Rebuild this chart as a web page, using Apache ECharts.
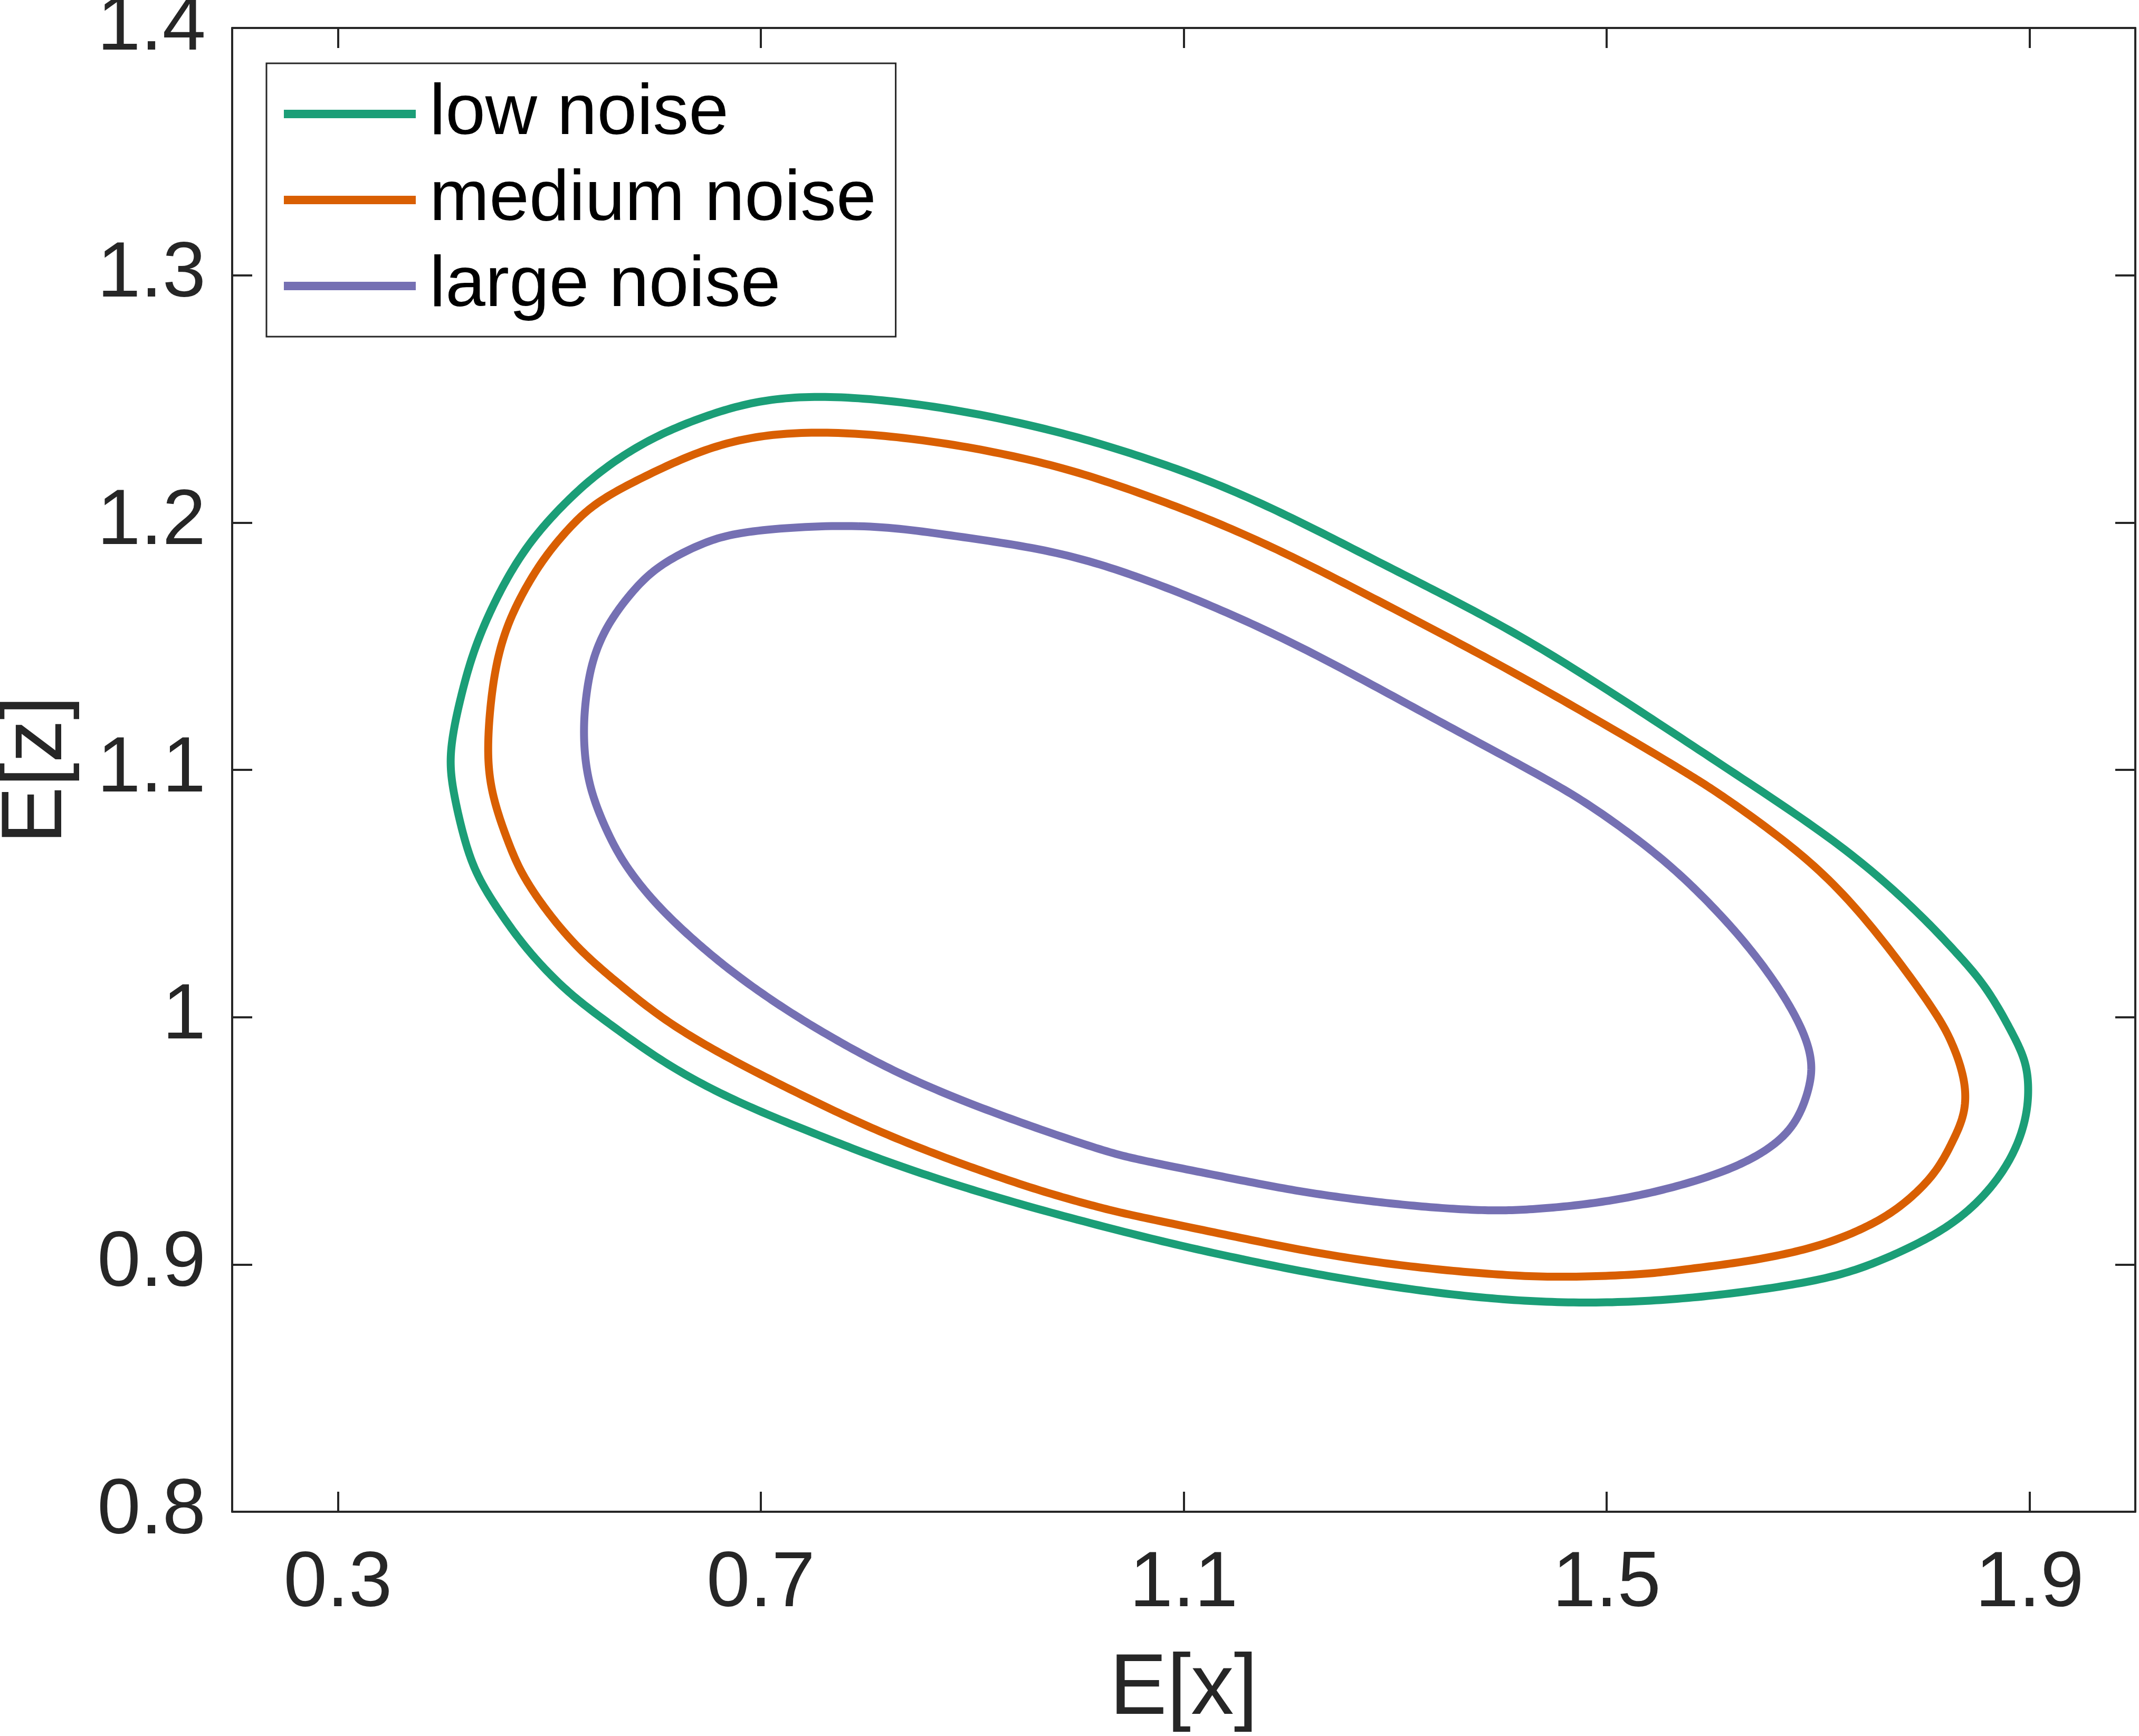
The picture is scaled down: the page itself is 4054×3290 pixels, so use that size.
<!DOCTYPE html>
<html>
<head>
<meta charset="utf-8">
<script src="https://cdn.jsdelivr.net/npm/echarts@6/dist/echarts.min.js"></script>
<style>
  html, body { margin: 0; padding: 0; background: #fff; }
  #main { width: 4054px; height: 3290px; }
</style>
</head>
<body>
<div id="main"></div>
<script>
// tick positions
const xTicks = [0.3, 0.7, 1.1, 1.5, 1.9];
const yTicks = [0.8, 0.9, 1, 1.1, 1.2, 1.3, 1.4];

const seriesNames = ['low noise', 'medium noise', 'large noise'];
const seriesColors = ['#1b9e77', '#d95f02', '#7570b3'];

// closed orbits, clockwise from the top
const lowNoise = [
  [0.777, 1.2515], [0.876, 1.2467], [0.978, 1.2374], [1.0545, 1.2276], [1.131, 1.2161],
  [1.2071, 1.2011], [1.284, 1.1841], [1.3597, 1.1678], [1.436, 1.1501], [1.5339, 1.1232],
  [1.618, 1.0994], [1.7264, 1.0688], [1.795, 1.0424], [1.827, 1.0278], [1.8585, 1.0131],
  [1.884, 0.9935], [1.897, 0.982], [1.8995, 0.9706], [1.897, 0.9592], [1.887, 0.9461],
  [1.8682, 0.9331], [1.843, 0.9216], [1.811, 0.9118], [1.763, 0.902], [1.7154, 0.8945],
  [1.636, 0.889], [1.5571, 0.8854], [1.474, 0.8841], [1.3915, 0.8859], [1.309, 0.8901],
  [1.2263, 0.8959], [1.144, 0.903], [1.0609, 0.9111], [0.9503, 0.9236],
  [0.876, 0.9333], [0.8139, 0.9423], [0.752, 0.9527], [0.6774, 0.9655], [0.611, 0.9804],
  [0.5533, 0.9984], [0.516, 1.0103], [0.479, 1.0269], [0.454, 1.0418], [0.4335, 1.0554],
  [0.421, 1.0688], [0.4087, 1.0912], [0.4045, 1.1066], [0.416, 1.1297], [0.4293, 1.1501],
  [0.4522, 1.1719], [0.478, 1.1905], [0.5094, 1.2059], [0.546, 1.2205], [0.5935, 1.2338],
  [0.647, 1.2433], [0.7041, 1.2504], [0.777, 1.2515]
];
const mediumNoise = [
  [0.7805, 1.2369], [0.876, 1.2325], [0.978, 1.2236], [1.0545, 1.2127], [1.131, 1.2004],
  [1.2071, 1.1855], [1.284, 1.1684], [1.3597, 1.1515], [1.436, 1.1338], [1.5416, 1.1076],
  [1.577, 1.0983], [1.5989, 1.0926], [1.6561, 1.0756], [1.7264, 1.0511], [1.8076, 1.0049],
  [1.827, 0.9902], [1.840, 0.9739], [1.8394, 0.9608], [1.827, 0.9494], [1.811, 0.9363],
  [1.779, 0.9233], [1.7472, 0.9151], [1.700, 0.9069], [1.636, 0.9012], [1.572, 0.8979],
  [1.5362, 0.8959], [1.454, 0.8946], [1.3915, 0.8959], [1.309, 0.8992], [1.2263, 0.9044],
  [1.144, 0.9116], [1.0609, 0.919], [1.028, 0.9221], [0.9711, 0.9288], [0.917, 0.9365],
  [0.8553, 0.9461], [0.793, 0.9572], [0.7312, 0.970], [0.669, 0.9834], [0.6111, 0.9978],
  [0.566, 1.0133], [0.5286, 1.0269], [0.499, 1.0418], [0.4748, 1.0569], [0.4625, 1.0688],
  [0.4438, 1.0912], [0.4408, 1.1106], [0.4465, 1.1365], [0.456, 1.1541], [0.4713, 1.1692],
  [0.494, 1.1855], [0.5209, 1.1991], [0.546, 1.209], [0.5935, 1.2195], [0.647, 1.230],
  [0.7041, 1.2361], [0.7805, 1.2369]
];
const largeNoise = [
  [0.7975, 1.1998], [0.876, 1.195], [0.978, 1.1889], [1.0545, 1.1787], [1.131, 1.1657],
  [1.2071, 1.1507], [1.284, 1.1331], [1.3597, 1.1154], [1.436, 1.098], [1.4843, 1.086],
  [1.5416, 1.0681], [1.5797, 1.0538], [1.618, 1.0368], [1.6465, 1.0219], [1.6695, 1.0076],
  [1.6867, 0.9939], [1.6943, 0.983], [1.6934, 0.9735], [1.6829, 0.9599], [1.6657, 0.9504],
  [1.6371, 0.9423], [1.5989, 0.9355], [1.5416, 0.9286], [1.4843, 0.9243], [1.4271, 0.9221],
  [1.388, 0.9216], [1.3298, 0.9231], [1.268, 0.9259], [1.2056, 0.9297], [1.144, 0.9349],
  [1.0609, 0.942], [1.028, 0.9453], [0.9503, 0.9566], [0.876, 0.9685], [0.8139, 0.9805],
  [0.752, 0.9954], [0.7104, 1.0067], [0.669, 1.0194], [0.6319, 1.0328], [0.599, 1.0464],
  [0.5741, 1.0598], [0.5575, 1.0718], [0.5365, 1.093], [0.5316, 1.1134], [0.5343, 1.1297],
  [0.540, 1.1433], [0.5496, 1.1541], [0.5628, 1.1637], [0.5856, 1.1759], [0.6087, 1.1841],
  [0.6469, 1.1923], [0.685, 1.197], [0.7975, 1.1998]
];

const FONT = "'Liberation Sans', Arial, Helvetica, sans-serif";
const AX = '#262626';
const LINE_W = 15;

const chart = echarts.init(document.getElementById('main'), null, { renderer: 'canvas' });

// closed cubic B-spline through the pixel positions, just for a smooth stroke
function closedSpline(pts, steps) {
  const n = pts.length;
  const out = [];
  for (let i = 0; i < n; i++) {
    const p0 = pts[(i - 1 + n) % n], p1 = pts[i], p2 = pts[(i + 1) % n], p3 = pts[(i + 2) % n];
    for (let s = 0; s < steps; s++) {
      const t = s / steps, t2 = t * t, t3 = t2 * t;
      const b0 = (1 - 3 * t + 3 * t2 - t3) / 6;
      const b1 = (4 - 6 * t2 + 3 * t3) / 6;
      const b2 = (1 + 3 * t + 3 * t2 - 3 * t3) / 6;
      const b3 = t3 / 6;
      out.push([
        b0 * p0[0] + b1 * p1[0] + b2 * p2[0] + b3 * p3[0],
        b0 * p0[1] + b1 * p1[1] + b2 * p2[1] + b3 * p3[1]
      ]);
    }
  }
  out.push(out[0]);
  return out;
}

function boxAxis(pos, ticks, min, max, withLabels, name, extra) {
  return Object.assign({
    type: 'value',
    position: pos,
    min: min,
    max: max,
    axisLine: { show: true, onZero: false, lineStyle: { color: AX, width: 4 } },
    axisTick: { show: true, inside: true, length: 38, customValues: ticks, lineStyle: { color: AX, width: 4 } },
    axisLabel: {
      show: withLabels, customValues: ticks,
      color: AX, fontFamily: FONT, fontSize: 148
    },
    splitLine: { show: false },
    name: name,
    nameLocation: 'middle',
    nameMoveOverlap: false,
    nameTextStyle: { color: AX, fontFamily: FONT, fontSize: 163 }
  }, extra || {});
}

const curves = [lowNoise, mediumNoise, largeNoise];

const option = {
  backgroundColor: '#fff',
  animation: false,
  grid: { left: 440, right: 7, top: 53, bottom: 425, outerBoundsMode: 'none' },
  legend: {
    orient: 'vertical',
    left: 505,
    top: 120,
    padding: [28, 37, 28, 33],
    itemGap: 27,
    itemWidth: 250,
    itemHeight: 16,
    icon: 'rect',
    backgroundColor: '#fff',
    borderColor: AX,
    borderWidth: 3,
    textStyle: { color: '#000', fontFamily: FONT, fontSize: 136, lineHeight: 110, padding: [26, 0, 0, 21] },
    data: seriesNames
  },
  xAxis: [
    boxAxis('bottom', xTicks, 0.2, 2.0, true, 'E[x]', { nameGap: 257, axisLabel: { show: true, customValues: xTicks, color: AX, fontFamily: FONT, fontSize: 148, margin: 64 } }),
    boxAxis('top', xTicks, 0.2, 2.0, false, '')
  ],
  yAxis: [
    boxAxis('left', yTicks, 0.8, 1.4, true, 'E[z]', { nameGap: 287, axisLabel: { show: true, customValues: yTicks, color: AX, fontFamily: FONT, fontSize: 148, margin: 50 } }),
    boxAxis('right', yTicks, 0.8, 1.4, false, '')
  ],
  series: curves.map((d, i) => ({
    name: seriesNames[i],
    type: 'custom',
    data: d,
    encode: { x: 0, y: 1 },
    itemStyle: { color: seriesColors[i] },
    renderItem: function (params, api) {
      if (params.dataIndex !== 0) return null;
      const px = d.slice(0, d.length - 1).map(p => api.coord(p));
      return {
        type: 'polyline',
        shape: { points: closedSpline(px, 16) },
        style: { stroke: seriesColors[i], lineWidth: LINE_W, fill: 'none', lineJoin: 'round' }
      };
    }
  }))
};

chart.setOption(option);
</script>
</body>
</html>
